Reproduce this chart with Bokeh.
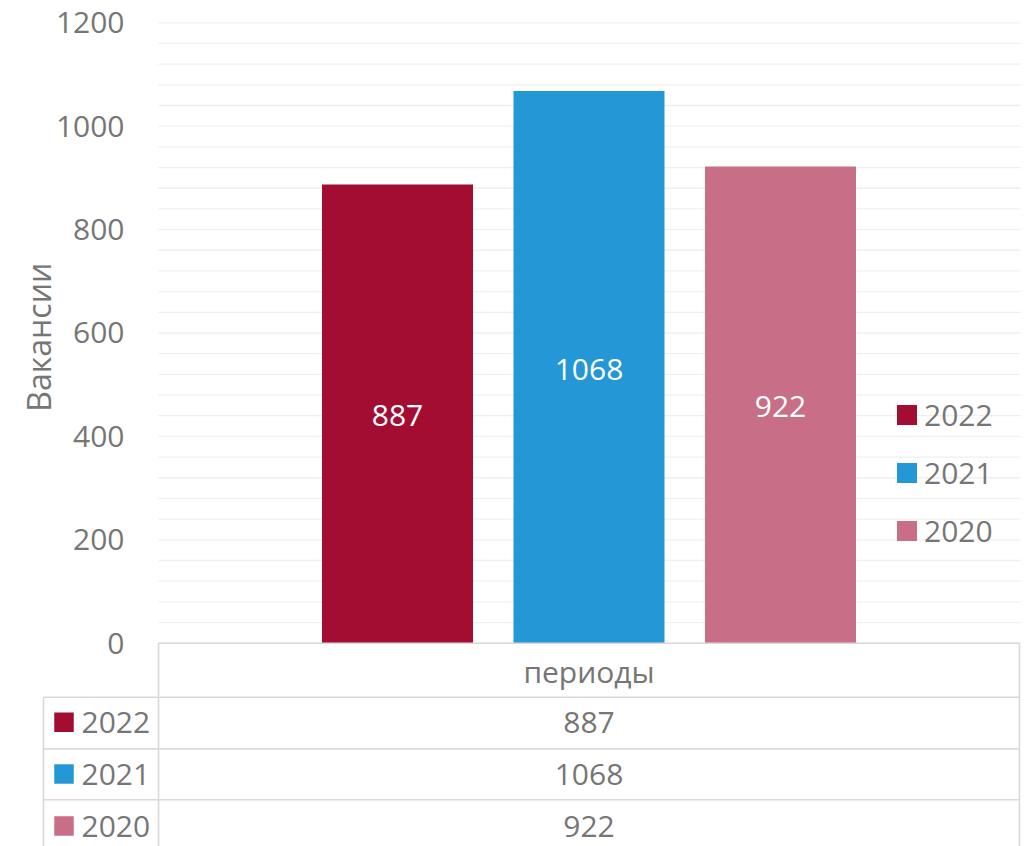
import math
from bokeh.plotting import figure
from bokeh.models import (Range1d, ColumnDataSource, FixedTicker, LinearAxis,
                          Legend, LegendItem, Label)
from bokeh.core.properties import value
from bokeh.embed import file_html
from bokeh.resources import INLINE

# ---- data ----
category = "периоды"
years = ["2022", "2021", "2020"]
vacancies = [887, 1068, 922]
colors = ["#A30D32", "#2497D6", "#C86E86"]
y_ticks = [0, 200, 400, 600, 800, 1000, 1200]
y_minor = list(range(0, 1201, 40))
y_title = "Вакансии"

FONT = "Open Sans"
GRAY = "#767676"
LINE = "#D9D9D9"
GRID = "#EFEFEF"
FS = "30px"

# x is measured in "bar slots" (bar i sits at x = i); the frame covers the whole canvas
p = figure(width=1030, height=846,
           x_range=Range1d(-2.0731, 3.3055),
           y_range=Range1d(-393.2, 1243.1),
           x_axis_location=None, y_axis_location=None,
           output_backend="svg", toolbar_location=None,
           min_border_left=0, min_border_right=0,
           min_border_top=0, min_border_bottom=0)
p.outline_line_color = None
p.background_fill_color = "white"
p.border_fill_color = "white"
p.xgrid.visible = False
p.ygrid.visible = False

PLOT_L, PLOT_R = -1.2480, 3.2533       # plot area edges (x units)
TBL_R = 3.2480
TBL_L = -1.8486

# gridlines (major + minor)
p.segment(x0=PLOT_L, x1=PLOT_R, y0=y_minor, y1=y_minor, line_color=GRID,
          line_width=1.3, level="underlay")

# y axis fixed at the left edge of the plot area
yax = LinearAxis(fixed_location=PLOT_L, ticker=FixedTicker(ticks=y_ticks),
                 bounds=(0, 1200))
yax.axis_line_color = None
yax.major_tick_line_color = None
yax.minor_tick_line_color = None
yax.major_tick_out = 0
yax.minor_tick_out = 0
yax.major_tick_in = 0
yax.minor_tick_in = 0
yax.major_label_standoff = 34
yax.major_label_text_font = FONT
yax.major_label_text_font_size = FS
yax.major_label_text_color = GRAY
p.add_layout(yax, "left")

p.add_layout(Label(x=-1.8721, y=592, text=y_title, angle=math.pi / 2,
                   text_align="center", text_baseline="middle",
                   text_font=FONT, text_font_size="32px", text_color=GRAY))

# bars
xs = list(range(len(years)))
src = ColumnDataSource(dict(x=xs, top=vacancies, mid=[v / 2 for v in vacancies],
                            lab=[str(v) for v in vacancies], color=colors, year=years))
items = []
for i, (yr, v, c) in enumerate(zip(years, vacancies, colors)):
    s = ColumnDataSource(dict(x=[xs[i]], top=[v]))
    r = p.vbar(x="x", top="top", bottom=0, width=151 / 191.5, source=s,
               fill_color=c, line_color=None)
    items.append(LegendItem(label=yr, renderers=[r]))

p.text(x="x", y="mid", text="lab", source=src, text_color="white",
       text_align="center", text_baseline="middle", y_offset=2,
       text_font=value(FONT), text_font_size=FS)

legend = Legend(items=items, location=(894, 295), orientation="vertical",
                glyph_width=25, glyph_height=25, label_standoff=5, spacing=17,
                padding=0, margin=0, border_line_color=None,
                background_fill_alpha=0,
                label_text_font=FONT, label_text_font_size=FS,
                label_text_color=GRAY)
p.add_layout(legend)

# ---- data table below the plot ----
row_lines = [-104.4, -204.3, -302.9]
Y_BOT = -393.2
header_y = -55.3
row_y = [-152.8, -253.0, -353.6]
x_mid = (len(years) - 1) / 2

hx0 = [PLOT_L, PLOT_L, TBL_R, TBL_L] + [TBL_L] * len(row_lines)
hx1 = [TBL_R, PLOT_L, TBL_R, TBL_L] + [TBL_R] * len(row_lines)
hy0 = [0, 0, 0, row_lines[0]] + row_lines
hy1 = [0, Y_BOT, Y_BOT, Y_BOT] + row_lines
p.segment(x0=hx0, y0=hy0, x1=hx1, y1=hy1, line_color=LINE, line_width=1.6)

tbl = ColumnDataSource(dict(x=[x_mid] * len(vacancies), y=row_y,
                            t=[str(v) for v in vacancies],
                            kx=[-1.7415] * len(years), lx=[-1.6501] * len(years),
                            yr=years, c=colors))
p.text(x="x", y="y", text="t", source=tbl, text_color=GRAY, text_align="center",
       text_baseline="middle", text_font=value(FONT), text_font_size=FS)
p.text(x=[x_mid], y=[header_y], text=[category], text_color=GRAY, text_align="center",
       text_baseline="middle", text_font=value(FONT), text_font_size=FS)
p.scatter(x="kx", y="y", source=tbl, marker="square", size=19.5,
          fill_color="c", line_color=None)
p.text(x="lx", y="y", text="yr", source=tbl, text_color=GRAY, text_align="left",
       text_baseline="middle", text_font=value(FONT), text_font_size=FS)

open("out.html", "w").write(file_html(p, INLINE))
